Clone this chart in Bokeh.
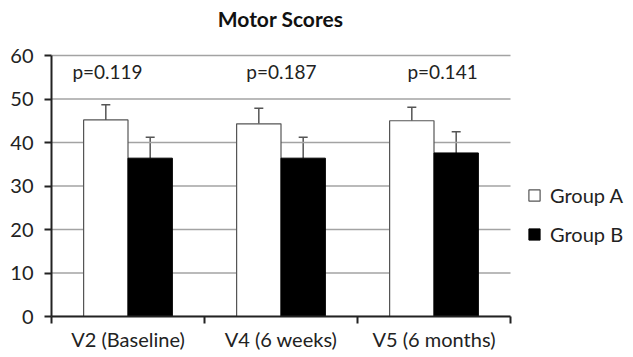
from bokeh.plotting import figure
from bokeh.models import (ColumnDataSource, FixedTicker, Whisker, TeeHead, Legend,
                          LegendItem, Label, Range1d)
from bokeh.embed import file_html
from bokeh.resources import INLINE

title = "Motor Scores"
categories = ["V2 (Baseline)", "V4 (6 weeks)", "V5 (6 months)"]
group_a = [45.2, 44.3, 45.0]
group_a_err = [3.5, 3.6, 3.1]
group_b = [36.4, 36.4, 37.6]
group_b_err = [4.8, 4.8, 4.9]
p_values = ["p=0.119", "p=0.187", "p=0.141"]
y_ticks = [0, 10, 20, 30, 40, 50, 60]

FONT = "Lato"
ncat = len(categories)
idx = list(range(ncat))
xa = [i + 0.355 for i in idx]
xb = [i + 0.645 for i in idx]

src_a = ColumnDataSource(dict(x=xa, top=group_a, up=[v + e for v, e in zip(group_a, group_a_err)]))
src_b = ColumnDataSource(dict(x=xb, top=group_b, up=[v + e for v, e in zip(group_b, group_b_err)]))

W, H = 633, 357
LEFT, RIGHT, TOP, BOTTOM = 51, 2, 1, 41
px_per_cat = 153.0
px_per_unit = 261.0 / 60.0
x_end = (W - LEFT - RIGHT) / px_per_cat      # room on the right for the legend
y_end = (H - TOP - BOTTOM) / px_per_unit     # room on top for the title

p = figure(width=W, height=H, output_backend="svg", toolbar_location=None,
           x_range=Range1d(0, x_end), y_range=Range1d(0, y_end),
           min_border_left=LEFT, min_border_right=RIGHT, min_border_top=TOP, min_border_bottom=BOTTOM)
p.outline_line_color = None
p.background_fill_color = "white"
p.border_fill_color = "white"

p.xgrid.visible = False
p.ygrid.visible = False
# horizontal gridlines limited to the category area
p.segment(x0=[0] * len(y_ticks), x1=[ncat] * len(y_ticks), y0=y_ticks, y1=y_ticks,
          line_color="#a3a3a3", line_width=1.5)

ra = p.vbar(x="x", top="top", width=0.29, source=src_a, fill_color="white",
            line_color="#555555", line_width=1.2)
rb = p.vbar(x="x", top="top", width=0.29, source=src_b, fill_color="black",
            line_color="black", line_width=1)

for src in (src_a, src_b):
    w = Whisker(source=src, base="x", lower="top", upper="up", dimension="height",
                line_color="#555555", line_width=1.5,
                upper_head=TeeHead(size=9, line_color="#555555", line_width=1.5),
                lower_head=None)
    p.add_layout(w)

p_x = [0.366, 1.503, 2.556]
for x, t in zip(p_x, p_values):
    p.add_layout(Label(x=x, y=56.4, text=t, text_align="center", text_baseline="middle",
                       text_font=FONT, text_font_size="19px", text_color="#222222"))

p.add_layout(Label(x=ncat / 2 - 0.003, y=68.4, text=title, text_align="center", text_baseline="middle",
                   text_font=FONT, text_font_size="21px", text_font_style="bold",
                   text_color="#111111"))

# axes
p.yaxis.ticker = FixedTicker(ticks=y_ticks)
p.yaxis.bounds = (y_ticks[0], y_ticks[-1])
p.yaxis.axis_line_width = 2
p.yaxis.axis_line_color = "#222222"
p.yaxis.major_tick_out = 7
p.yaxis.major_tick_in = 0
p.yaxis.major_tick_line_width = 2
p.yaxis.major_tick_line_color = "#222222"
p.yaxis.minor_tick_line_color = None
p.yaxis.major_label_text_font = FONT
p.yaxis.major_label_text_font_size = "20px"
p.yaxis.major_label_text_color = "#222222"
p.yaxis.major_label_standoff = 11

p.xaxis.ticker = FixedTicker(ticks=[i + 0.5 for i in idx], minor_ticks=list(range(ncat + 1)))
p.xaxis.major_label_overrides = {i + 0.5: c for i, c in zip(idx, categories)}
p.xaxis.bounds = (0, ncat)
p.xaxis.major_tick_out = 0
p.xaxis.major_tick_in = 0
p.xaxis.minor_tick_out = 7
p.xaxis.minor_tick_in = 0
p.xaxis.minor_tick_line_width = 2
p.xaxis.minor_tick_line_color = "#222222"
p.xaxis.axis_line_width = 2
p.xaxis.axis_line_color = "#222222"
p.xaxis.major_label_text_font = FONT
p.xaxis.major_label_text_font_size = "20px"
p.xaxis.major_label_text_color = "#222222"
p.xaxis.major_label_standoff = 3

legend = Legend(items=[LegendItem(label="Group A", renderers=[ra]),
                       LegendItem(label="Group B", renderers=[rb])],
                location=(476, 70), orientation="vertical",
                glyph_width=14, glyph_height=14, label_height=20, spacing=15,
                label_text_font=FONT, label_text_font_size="20px", label_text_color="#222222",
                label_standoff=9, border_line_color=None, background_fill_alpha=0,
                padding=0, margin=0)
p.add_layout(legend)

open("out.html", "w").write(file_html(p, INLINE))
